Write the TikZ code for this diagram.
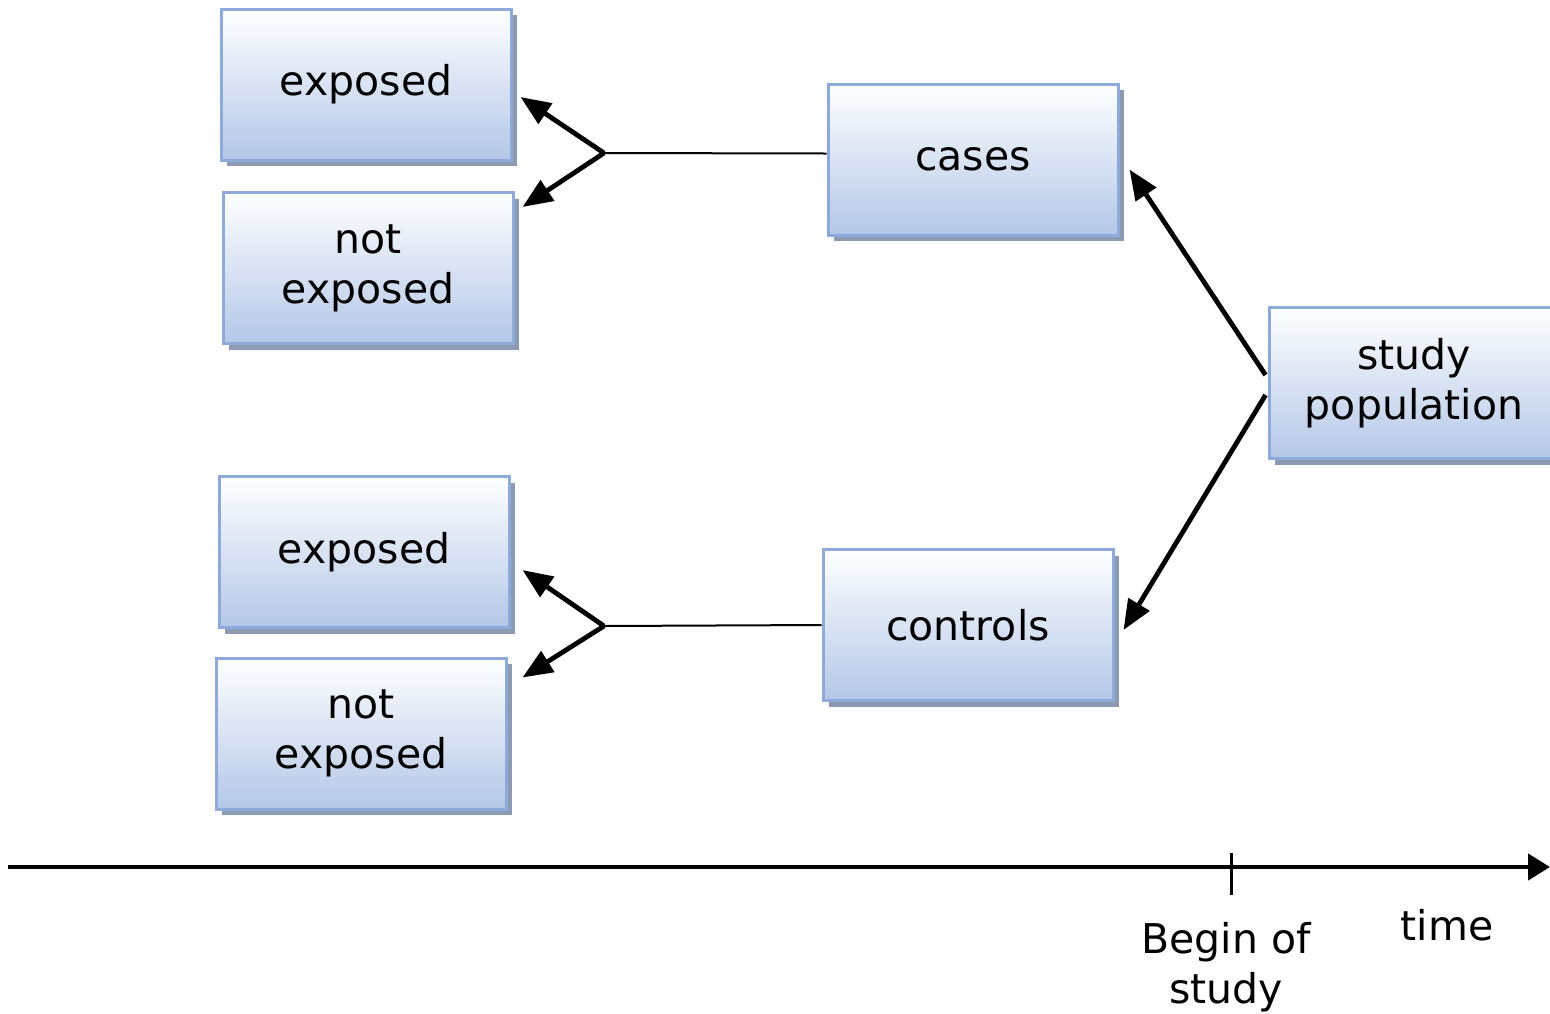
\documentclass[tikz,border=0pt]{standalone}
\usepackage{fontspec}
\setmainfont{DejaVu Sans}
\usetikzlibrary{arrows.meta}
\usetikzlibrary{shadows}
\usepackage{xcolor}
\definecolor{boxline}{RGB}{142,170,219}
\definecolor{boxfill}{RGB}{180,199,231}
\definecolor{boxshadow}{RGB}{141,155,178}

\tikzset{
	groupbox/.style={draw=boxline, line width=1.5pt, top color=white, bottom color=boxfill,
		minimum width=145pt, minimum height=75.5pt, inner sep=0pt, align=center,
		drop shadow={shadow xshift=3pt, shadow yshift=-3pt, fill=boxshadow, opacity=1}},
	split/.style={line width=2.4pt, -{Triangle[length=15pt,width=12pt]}},
}

\begin{document}
\begin{tikzpicture}[x=0.5pt,y=-0.5pt,font=\fontsize{20.5}{25}\selectfont]
	\useasboundingbox (0,0) rectangle (1550,1013);

	%Shape: Rectangle -- case branch
	\node (expA) [groupbox] at (366,84.5) {exposed};
	\node (notA) [groupbox] at (368,268) {not\\exposed};
	\node (cases) [groupbox] at (973,159.5) {cases};
	%Shape: Rectangle -- control branch
	\node (expB) [groupbox] at (364,552) {exposed};
	\node (notB) [groupbox] at (361,733.5) {not\\exposed};
	\node (controls) [groupbox] at (968,625) {controls};
	%Shape: Rectangle -- runs off the right edge
	\node (pop) [groupbox] at (1414,383) {study\\population};

	%Straight Lines
	\coordinate (forkA) at (604,153);
	\coordinate (forkB) at (604,626);
	\draw [line width=1pt] ([yshift=3pt]cases.west) -- (forkA);
	\draw [line width=1pt] (controls.west) -- (forkB);
	\draw [split] (forkA) -- ([xshift=4pt,yshift=-6.25pt]expA.east);
	\draw [split] (forkA) -- ([xshift=4pt,yshift=-8pt]notA.north east);
	\draw [split] (forkB) -- ([xshift=6pt,yshift=-9pt]expB.east);
	\draw [split] (forkB) -- ([xshift=7.5pt,yshift=-10.5pt]notB.north east);
	\draw [split] ([xshift=-1pt,yshift=4pt]pop.west) -- ([xshift=5pt,yshift=-5pt]cases.east);
	\draw [split] ([xshift=-1pt,yshift=-6pt]pop.west) -- ([xshift=4.5pt,yshift=-2.5pt]controls.east);

	%Time axis
	\coordinate (tstart) at (8,867);
	\coordinate (tend) at (1550,867);
	\coordinate (ticktop) at (1231,853);
	\coordinate (tickbot) at (1231,895);
	\draw [line width=2.2pt, -{Triangle[length=11pt,width=13pt]}] (tstart) -- (tend);
	\draw [line width=1.5pt] (ticktop) -- (tickbot);

	% Text Node
	\node (begin) [align=center, inner sep=0pt] at (1226,967) {Begin of\\study};
	% Text Node
	\node (time) [anchor=base, inner sep=0pt] at (1447,940) {time};
\end{tikzpicture}
\end{document}
